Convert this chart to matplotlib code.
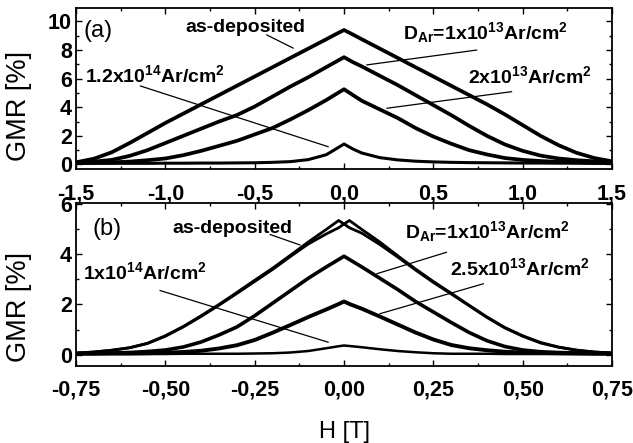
import matplotlib
matplotlib.use("Agg")
import matplotlib.pyplot as plt
from matplotlib.ticker import MultipleLocator, FuncFormatter

plt.rcParams["font.family"] = ["Liberation Sans", "DejaVu Sans"]
plt.rcParams["mathtext.default"] = "regular"

# ---- panel (a): H in T, GMR in % ----
h_a = [-1.5, -1.4, -1.3, -1.2, -1.1, -1.0, -0.9, -0.8, -0.7, -0.6, -0.5, -0.4, -0.3, -0.2, -0.1, -0.05,
       0.0, 0.05, 0.1, 0.2, 0.3, 0.4, 0.5, 0.6, 0.7, 0.8, 0.9, 1.0, 1.1, 1.2, 1.3, 1.4, 1.5]
gmr_a_asdep = [0.15, 0.4, 0.85, 1.5, 2.2, 2.9, 3.55, 4.2, 4.85, 5.5, 6.15, 6.8, 7.45, 8.1, 8.75, 9.08,
               9.4, 9.08, 8.75, 8.1, 7.45, 6.8, 6.15, 5.5, 4.85, 4.2, 3.5, 2.75, 2.0, 1.35, 0.82, 0.45, 0.22]
gmr_a_1e13 = [0.12, 0.2, 0.32, 0.6, 1.0, 1.5, 2.0, 2.5, 3.0, 3.45, 4.05, 4.75, 5.45, 6.1, 6.8, 7.15,
              7.5, 7.15, 6.85, 6.2, 5.55, 4.85, 4.15, 3.45, 2.7, 2.0, 1.4, 0.95, 0.62, 0.42, 0.3, 0.22, 0.15]
gmr_a_2e13 = [0.1, 0.12, 0.15, 0.2, 0.3, 0.42, 0.65, 0.95, 1.3, 1.65, 2.1, 2.55, 3.15, 3.8, 4.5, 4.88,
              5.26, 4.85, 4.45, 3.85, 3.25, 2.55, 1.95, 1.45, 1.0, 0.7, 0.45, 0.32, 0.24, 0.18, 0.15, 0.12, 0.1]
gmr_a_12e14 = [0.08, 0.08, 0.08, 0.08, 0.08, 0.09, 0.09, 0.1, 0.1, 0.11, 0.12, 0.15, 0.2, 0.34, 0.68, 1.05,
               1.43, 1.08, 0.8, 0.48, 0.32, 0.23, 0.18, 0.15, 0.13, 0.12, 0.11, 0.1, 0.1, 0.09, 0.09, 0.08, 0.08]

# ---- panel (b) ----
h_b = [-0.75, -0.7, -0.65, -0.6, -0.55, -0.5, -0.45, -0.4, -0.35, -0.3, -0.25, -0.2, -0.15, -0.1, -0.05, -0.015,
       0.0, 0.015, 0.05, 0.1, 0.15, 0.2, 0.25, 0.3, 0.35, 0.4, 0.45, 0.5, 0.55, 0.6, 0.65, 0.7, 0.75]
gmr_b_asdep_l = [0.05, 0.1, 0.17, 0.27, 0.45, 0.75, 1.12, 1.55, 2.0, 2.48, 2.97, 3.45, 3.97, 4.5, 5.0, 5.36,
                 5.22, 5.07, 4.85, 4.4, 3.9, 3.38, 2.88, 2.42, 1.95, 1.48, 1.06, 0.73, 0.46, 0.29, 0.17, 0.1, 0.06]
gmr_b_asdep_r = [0.06, 0.1, 0.17, 0.27, 0.44, 0.73, 1.1, 1.52, 1.97, 2.44, 2.92, 3.4, 3.92, 4.42, 4.82, 5.07,
                 5.22, 5.36, 5.0, 4.5, 3.95, 3.42, 2.92, 2.45, 1.97, 1.5, 1.08, 0.75, 0.48, 0.3, 0.18, 0.1, 0.06]
gmr_b_1e13 = [0.04, 0.05, 0.06, 0.08, 0.12, 0.18, 0.3, 0.5, 0.78, 1.1, 1.55, 2.05, 2.55, 3.05, 3.5, 3.8,
              3.93, 3.8, 3.5, 3.05, 2.6, 2.12, 1.7, 1.28, 0.88, 0.55, 0.32, 0.18, 0.11, 0.08, 0.06, 0.05, 0.04]
gmr_b_25e13 = [0.03, 0.03, 0.04, 0.04, 0.05, 0.07, 0.1, 0.15, 0.24, 0.37, 0.58, 0.87, 1.18, 1.5, 1.8, 2.02,
               2.12, 2.02, 1.83, 1.52, 1.2, 0.88, 0.6, 0.38, 0.25, 0.17, 0.11, 0.08, 0.06, 0.05, 0.04, 0.03, 0.03]
gmr_b_1e14 = [0.02, 0.02, 0.02, 0.02, 0.02, 0.02, 0.03, 0.03, 0.03, 0.03, 0.04, 0.05, 0.08, 0.14, 0.25, 0.33,
              0.36, 0.34, 0.29, 0.21, 0.14, 0.09, 0.05, 0.03, 0.03, 0.03, 0.02, 0.02, 0.02, 0.02, 0.02, 0.02, 0.02]

fig = plt.figure(figsize=(6.33, 4.43), dpi=100)
ax1 = fig.add_axes([0.120, 0.6174, 0.847, 0.3646])
ax2 = fig.add_axes([0.120, 0.1738, 0.847, 0.368])

for ys in (gmr_a_asdep, gmr_a_1e13, gmr_a_2e13):
    ax1.plot(h_a, ys, color="black", lw=2.7, solid_joinstyle="round")
ax1.plot(h_a, gmr_a_12e14, color="black", lw=2.2, solid_joinstyle="round")

ax2.plot(h_b, gmr_b_asdep_l, color="black", lw=2.0, solid_joinstyle="round")
ax2.plot(h_b, gmr_b_asdep_r, color="black", lw=2.0, solid_joinstyle="round")
ax2.plot(h_b, gmr_b_1e13, color="black", lw=2.6, solid_joinstyle="round")
ax2.plot(h_b, gmr_b_25e13, color="black", lw=2.8, solid_joinstyle="round")
ax2.plot(h_b, gmr_b_1e14, color="black", lw=1.8, solid_joinstyle="round")

ax1.set_xlim(-1.5, 1.5)
ax1.set_ylim(-0.35, 10.94)
ax2.set_xlim(-0.75, 0.75)
ax2.set_ylim(-0.46, 6.06)

ax1.xaxis.set_major_locator(MultipleLocator(0.5))
ax1.xaxis.set_minor_locator(MultipleLocator(0.25))
ax1.yaxis.set_major_locator(MultipleLocator(2))
ax1.yaxis.set_minor_locator(MultipleLocator(1))
ax2.xaxis.set_major_locator(MultipleLocator(0.25))
ax2.xaxis.set_minor_locator(MultipleLocator(0.125))
ax2.yaxis.set_major_locator(MultipleLocator(2))
ax2.yaxis.set_minor_locator(MultipleLocator(1))

ax1.xaxis.set_major_formatter(FuncFormatter(lambda v, p: f"{v:.1f}".replace(".", ",")))
ax2.xaxis.set_major_formatter(FuncFormatter(lambda v, p: f"{v:.2f}".replace(".", ",")))
for ax in (ax1, ax2):
    ax.yaxis.set_major_formatter(FuncFormatter(lambda v, p: f"{v:.0f}"))
    ax.tick_params(which="both", direction="in", top=True, right=True, width=1.0)
    ax.tick_params(which="major", length=4)
    ax.tick_params(which="minor", length=2.5)
    ax.tick_params(axis="x", pad=10)
    ax.tick_params(axis="y", pad=3)
    for lab in ax.get_xticklabels() + ax.get_yticklabels():
        lab.set_fontsize(15.5)
        lab.set_fontweight("bold")
    for sp in ax.spines.values():
        sp.set_linewidth(1.3)
    ax.set_ylabel("GMR [%]", fontsize=19.5)

ax1.yaxis.set_label_coords(-0.082, 0.39)
ax2.yaxis.set_label_coords(-0.082, 0.36)
ax2.set_xlabel("H [T]", fontsize=17)
ax2.xaxis.set_label_coords(0.5, -0.34)

tkw = dict(fontsize=14, fontweight="bold", ha="left", va="center")
lkw = dict(arrowstyle="-", lw=0.9, color="black", shrinkA=0, shrinkB=0)

# panel (a) labels
ax1.text(-1.46, 9.35, "(a)", fontsize=17, ha="left", va="center")
ax1.text(-0.89, 9.6, "as-deposited", **tkw)
ax1.text(-1.45, 6.25, r"1.2x10$^{14}$Ar/cm$^2$", **tkw)
ax1.text(0.33, 9.2, r"D$_{Ar}$=1x10$^{13}$Ar/cm$^2$", **tkw)
ax1.text(0.694, 6.2, r"2x10$^{13}$Ar/cm$^2$", **tkw)
ax1.annotate("", xy=(-0.284, 8.13), xytext=(-0.433, 9.06), arrowprops=lkw)
ax1.annotate("", xy=(-0.088, 1.24), xytext=(-1.14, 5.49), arrowprops=lkw)
ax1.annotate("", xy=(0.743, 8.0), xytext=(0.127, 6.96), arrowprops=lkw)
ax1.annotate("", xy=(0.938, 5.09), xytext=(0.239, 3.93), arrowprops=lkw)

# panel (b) labels
ax2.text(-0.705, 5.0, "(b)", fontsize=17, ha="left", va="center")
ax2.text(-0.479, 5.05, "as-deposited", **tkw)
ax2.text(-0.73, 3.3, r"1x10$^{14}$Ar/cm$^2$", **tkw)
ax2.text(0.171, 4.9, r"D$_{Ar}$=1x10$^{13}$Ar/cm$^2$", **tkw)
ax2.text(0.297, 3.46, r"2.5x10$^{13}$Ar/cm$^2$", **tkw)
ax2.annotate("", xy=(-0.123, 4.38), xytext=(-0.207, 4.8), arrowprops=lkw)
ax2.annotate("", xy=(-0.044, 0.49), xytext=(-0.515, 2.56), arrowprops=lkw)
ax2.annotate("", xy=(0.287, 4.09), xytext=(0.0915, 3.23), arrowprops=lkw)
ax2.annotate("", xy=(0.39, 2.83), xytext=(0.1, 1.63), arrowprops=lkw)

fig.savefig("out.png", dpi=100)
